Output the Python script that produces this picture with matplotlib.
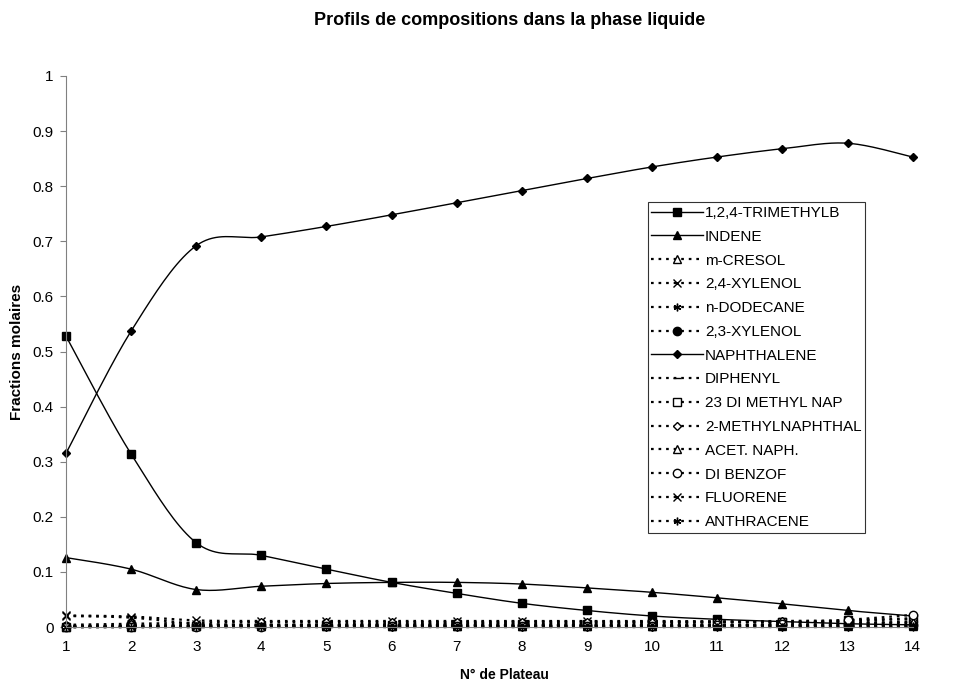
import numpy as np
import matplotlib
matplotlib.use("Agg")
import matplotlib.pyplot as plt

plt.rcParams['font.family'] = ['Liberation Sans', 'DejaVu Sans']

plateaux = list(range(1, 15))

trimethylb = [0.528, 0.314, 0.153, 0.130, 0.105, 0.081, 0.061, 0.043, 0.030, 0.020, 0.014, 0.010, 0.006, 0.004]
indene = [0.126, 0.105, 0.068, 0.074, 0.079, 0.081, 0.081, 0.078, 0.071, 0.063, 0.053, 0.042, 0.030, 0.020]
m_cresol = [0.001, 0.001, 0.001, 0.001, 0.001, 0.001, 0.001, 0.001, 0.001, 0.001, 0.001, 0.001, 0.001, 0.001]
xylenol_24 = [0.021, 0.019, 0.012, 0.011, 0.011, 0.011, 0.011, 0.011, 0.011, 0.011, 0.010, 0.010, 0.008, 0.006]
dodecane = [0.000, 0.000, 0.000, 0.000, 0.000, 0.000, 0.000, 0.000, 0.000, 0.000, 0.000, 0.000, 0.000, 0.000]
xylenol_23 = [0.002, 0.003, 0.004, 0.004, 0.004, 0.004, 0.004, 0.004, 0.004, 0.004, 0.004, 0.004, 0.004, 0.003]
naphthalene = [0.315, 0.537, 0.692, 0.708, 0.727, 0.748, 0.770, 0.792, 0.814, 0.835, 0.853, 0.868, 0.878, 0.853]
diphenyl = [0.001, 0.002, 0.003, 0.004, 0.005, 0.006, 0.007, 0.008, 0.008, 0.009, 0.009, 0.009, 0.009, 0.008]
dimethyl_nap = [0.000, 0.001, 0.002, 0.003, 0.003, 0.004, 0.005, 0.005, 0.006, 0.007, 0.008, 0.009, 0.012, 0.016]
methylnaphthal = [0.004, 0.006, 0.008, 0.009, 0.009, 0.009, 0.009, 0.010, 0.010, 0.010, 0.010, 0.011, 0.012, 0.014]
acet_naph = [0.000, 0.000, 0.001, 0.001, 0.001, 0.001, 0.001, 0.002, 0.002, 0.002, 0.003, 0.004, 0.006, 0.010]
dibenzof = [0.000, 0.000, 0.000, 0.000, 0.001, 0.001, 0.001, 0.001, 0.002, 0.002, 0.003, 0.006, 0.013, 0.022]
fluorene = [0.020, 0.017, 0.006, 0.004, 0.003, 0.003, 0.003, 0.003, 0.003, 0.003, 0.003, 0.003, 0.003, 0.003]
anthracene = [0.000, 0.000, 0.000, 0.000, 0.000, 0.000, 0.000, 0.000, 0.000, 0.000, 0.000, 0.000, 0.000, 0.001]

series = [
    ("1,2,4-TRIMETHYLB", trimethylb, 's', True, 'k'),
    ("INDENE", indene, '^', True, 'k'),
    ("m-CRESOL", m_cresol, '^', False, 'w'),
    ("2,4-XYLENOL", xylenol_24, 'x', False, 'k'),
    ("n-DODECANE", dodecane, (6, 2, 0), False, 'k'),
    ("2,3-XYLENOL", xylenol_23, 'o', False, 'k'),
    ("NAPHTHALENE", naphthalene, 'D', True, 'k'),
    ("DIPHENYL", diphenyl, '_', False, 'k'),
    ("23 DI METHYL NAP", dimethyl_nap, 's', False, 'w'),
    ("2-METHYLNAPHTHAL", methylnaphthal, 'D', False, 'w'),
    ("ACET. NAPH.", acet_naph, '^', False, 'w'),
    ("DI BENZOF", dibenzof, 'o', False, 'w'),
    ("FLUORENE", fluorene, 'x', False, 'k'),
    ("ANTHRACENE", anthracene, (6, 2, 0), False, 'k'),
]


def smooth(x, y, n=20):
    # Catmull-Rom style bezier, like spreadsheet "smoothed lines"
    x = np.asarray(x, float)
    y = np.asarray(y, float)
    px = np.concatenate([[x[0]], x, [x[-1]]])
    py = np.concatenate([[y[0]], y, [y[-1]]])
    xs, ys = [], []
    t = np.linspace(0, 1, n, endpoint=False)
    for i in range(len(x) - 1):
        p0 = np.array([px[i + 1], py[i + 1]])
        p3 = np.array([px[i + 2], py[i + 2]])
        c1 = p0 + (p3 - np.array([px[i], py[i]])) / 6
        c2 = p3 - (np.array([px[i + 3], py[i + 3]]) - p0) / 6
        b = ((1 - t) ** 3)[:, None] * p0 + (3 * (1 - t) ** 2 * t)[:, None] * c1 \
            + (3 * (1 - t) * t ** 2)[:, None] * c2 + (t ** 3)[:, None] * p3
        xs.extend(b[:, 0])
        ys.extend(b[:, 1])
    xs.append(x[-1])
    ys.append(y[-1])
    return np.array(xs), np.array(ys), list(range(0, len(xs), n))


fig = plt.figure(figsize=(9.8, 6.84), dpi=100)
ax = fig.add_axes([0.0673, 0.0833, 0.864, 0.8056])

for name, vals, mk, solid, fc in series:
    sx, sy, idx = smooth(plateaux, vals)
    ms = 6 if mk in ('s', '^', 'o') else 5.5
    if mk == 'D':
        ms = 4.5
    ax.plot(sx, sy, color='k', lw=1.0 if solid else 1.6,
            linestyle='-' if solid else (0, (1.2, 2.2)),
            marker=mk, markevery=idx, markersize=ms,
            markerfacecolor=fc, markeredgecolor='k', markeredgewidth=1.0,
            label=name, clip_on=False)

ax.set_xlim(1, 14)
ax.set_ylim(0, 1)
ax.set_xticks(plateaux)
ax.set_yticks(np.arange(0, 1.01, 0.1))
ax.set_yticklabels(['0'] + ['%.1f' % v for v in np.arange(0.1, 0.95, 0.1)] + ['1'])
ax.spines['top'].set_visible(False)
ax.spines['right'].set_visible(False)
ax.spines['left'].set_color('#808080')
ax.spines['bottom'].set_color('#808080')
ax.tick_params(axis='y', direction='out', length=4, color='#808080', labelsize=11, pad=5)
ax.tick_params(axis='x', direction='out', length=0, labelsize=11, pad=9)

ax.set_xlabel("N° de Plateau", fontsize=10, fontweight='bold')
ax.xaxis.set_label_coords(0.518, -0.075)
ax.set_ylabel("Fractions molaires", fontsize=11, fontweight='bold', labelpad=6)
fig.suptitle("Profils de compositions dans la phase liquide", fontsize=13,
             fontweight='bold', x=0.52, y=0.982)

leg = ax.legend(loc='upper left', bbox_to_anchor=(0.687, 0.771), fontsize=11,
                frameon=True, fancybox=False, edgecolor='k', handlelength=3.4,
                handletextpad=0.1, labelspacing=0.64, borderpad=0.25,
                borderaxespad=0)
leg.get_frame().set_linewidth(0.8)

fig.savefig("out.png", dpi=100)
